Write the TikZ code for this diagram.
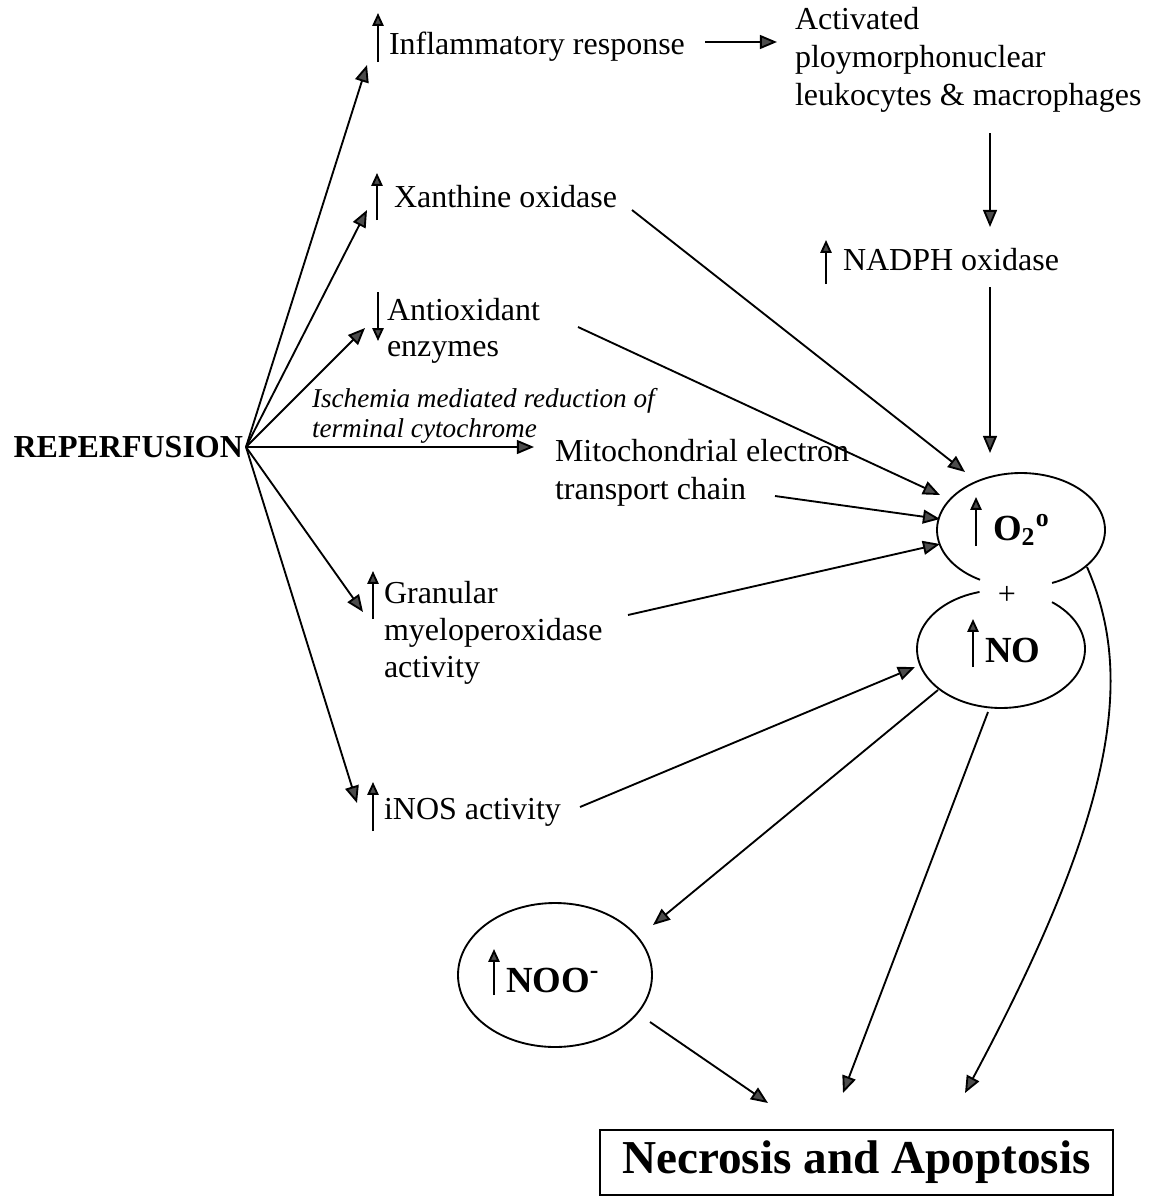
\documentclass[tikz,border=0pt]{standalone}
\usepackage{fontspec}
\setmainfont{Liberation Serif}
\usetikzlibrary{arrows.meta,shapes.geometric}
\begin{document}
\begin{tikzpicture}[x=0.375pt,y=-0.375pt,
  every node/.style={inner sep=0pt,outer sep=0pt,font=\fontsize{12}{13.8}\selectfont},
  conn/.style={line width=0.7pt,-{Triangle[length=6.4pt,width=5.2pt,fill=black!70]}},
  upar/.style={line width=0.7pt,-{Triangle[length=4.8pt,width=4.2pt,fill=black!70]}},
  txt/.style={anchor=west,align=left},
  boldtxt/.style={anchor=west,font=\fontsize{13.8}{15}\selectfont\bfseries}]
\useasboundingbox (0,0) rectangle (1162,1203);

% text nodes
\node[anchor=east,font=\fontsize{12}{14}\selectfont\bfseries] (rep) at (243,447) {REPERFUSION};
\coordinate (hub) at (246,447);
\node[txt] (inf) at (389,47) {Inflammatory response};
\node[txt] (xan) at (394,197) {Xanthine oxidase};
\node[txt,font=\fontsize{12}{13.4}\selectfont] (anti) at (387,331) {Antioxidant\\enzymes};
\node[txt,font=\fontsize{10.2}{11}\selectfont\itshape] (isch) at (312,416) {Ischemia mediated reduction of\\terminal cytochrome};
\node[txt,font=\fontsize{12}{14.2}\selectfont] (mito) at (555,473) {Mitochondrial electron\\transport chain};
\node[txt,font=\fontsize{12}{13.8}\selectfont] (gran) at (384,633) {Granular\\myeloperoxidase\\activity};
\node[txt] (inos) at (384,812) {iNOS activity};
\node[txt,font=\fontsize{12}{14.2}\selectfont] (act) at (795,60) {Activated\\ploymorphonuclear\\leukocytes \& macrophages};
\node[txt] (nadph) at (843,260) {NADPH oxidase};

% ellipses
\node[ellipse,minimum width=63pt,minimum height=42.75pt] (o2) at (1021,530) {};
\node[ellipse,minimum width=63pt,minimum height=44.25pt] (no) at (1001,649) {};
\draw[line width=0.7pt] plot[domain=119.2:428.3,samples=90,variable=\t] ({1021+84*cos(\t)},{530+57*sin(\t)});
\draw[line width=0.7pt] plot[domain=-52.6:255.2,samples=90,variable=\t] ({1001+84*cos(\t)},{649+59*sin(\t)});
\node[boldtxt] (o2t) at (993,530) {O\textsubscript{2}\textsuperscript{o}};
\node[boldtxt] (not) at (985,650) {NO};
\node (plus) at (1007,595) {+};
\node[draw,ellipse,line width=0.7pt,minimum width=72.75pt,minimum height=54pt] (noo) at (555,975) {};
\node[boldtxt] (noot) at (506,980) {NOO\textsuperscript{-}};

% outcome box
\node[draw,line width=0.8pt,minimum width=192.4pt,minimum height=24.4pt,font=\fontsize{17.7}{20}\selectfont\bfseries] (nec) at (856.5,1162.5) {Necrosis and Apoptosis};

% small up/down arrows
\draw[upar] (378,62) -- (378,13);
\draw[upar] (377,220) -- (377,173);
\draw[upar] (378,292) -- (378,341);
\draw[upar] (373,619) -- (373,571);
\draw[upar] (373,831) -- (373,782);
\draw[upar] (826,284) -- (826,240);
\draw[upar] (976,546) -- (976,497);
\draw[upar] (973,667) -- (973,619);
\draw[upar] (494,995) -- (494,949);

% connector end points
\coordinate (infT) at (367,65);
\coordinate (xanT) at (367,210);
\coordinate (antiT) at (365,328);
\coordinate (mitoT) at (534,447);
\coordinate (granT) at (363,612);
\coordinate (inosT) at (357,803);

\coordinate (infS) at (705,42);   \coordinate (actT) at (777,42);
\coordinate (actS) at (990,133);  \coordinate (nadT) at (990,227);
\coordinate (nadS) at (990,287);  \coordinate (o2a) at (990,453);
\coordinate (xanS) at (632,210);  \coordinate (o2b) at (965,472);
\coordinate (antiS) at (578,327); \coordinate (o2c) at (940,495);
\coordinate (mitoS) at (775,496); \coordinate (o2d) at (940,519);
\coordinate (granS) at (628,615); \coordinate (o2e) at (940,544);
\coordinate (inosS) at (580,807); \coordinate (noa) at (915,667);
\coordinate (noS1) at (938,690);  \coordinate (nooT) at (653,925);
\coordinate (noS2) at (988,712);  \coordinate (necB) at (843,1093);
\coordinate (o2S) at (1087,567);  \coordinate (necC) at (965,1093);
\coordinate (nooS) at (650,1022); \coordinate (necA) at (768,1103);

% connectors
\draw[conn] (hub) -- (infT);
\draw[conn] (hub) -- (xanT);
\draw[conn] (hub) -- (antiT);
\draw[conn] (hub) -- (mitoT);
\draw[conn] (hub) -- (granT);
\draw[conn] (hub) -- (inosT);
\draw[conn] (infS) -- (actT);
\draw[conn] (actS) -- (nadT);
\draw[conn] (nadS) -- (o2a);
\draw[conn] (xanS) -- (o2b);
\draw[conn] (antiS) -- (o2c);
\draw[conn] (mitoS) -- (o2d);
\draw[conn] (granS) -- (o2e);
\draw[conn] (inosS) -- (noa);
\draw[conn] (noS1) -- (nooT);
\draw[conn] (noS2) -- (necB);
\draw[conn] (o2S) .. controls (1132,670) and (1122,800) .. (necC);
\draw[conn] (nooS) -- (necA);
\end{tikzpicture}
\end{document}
